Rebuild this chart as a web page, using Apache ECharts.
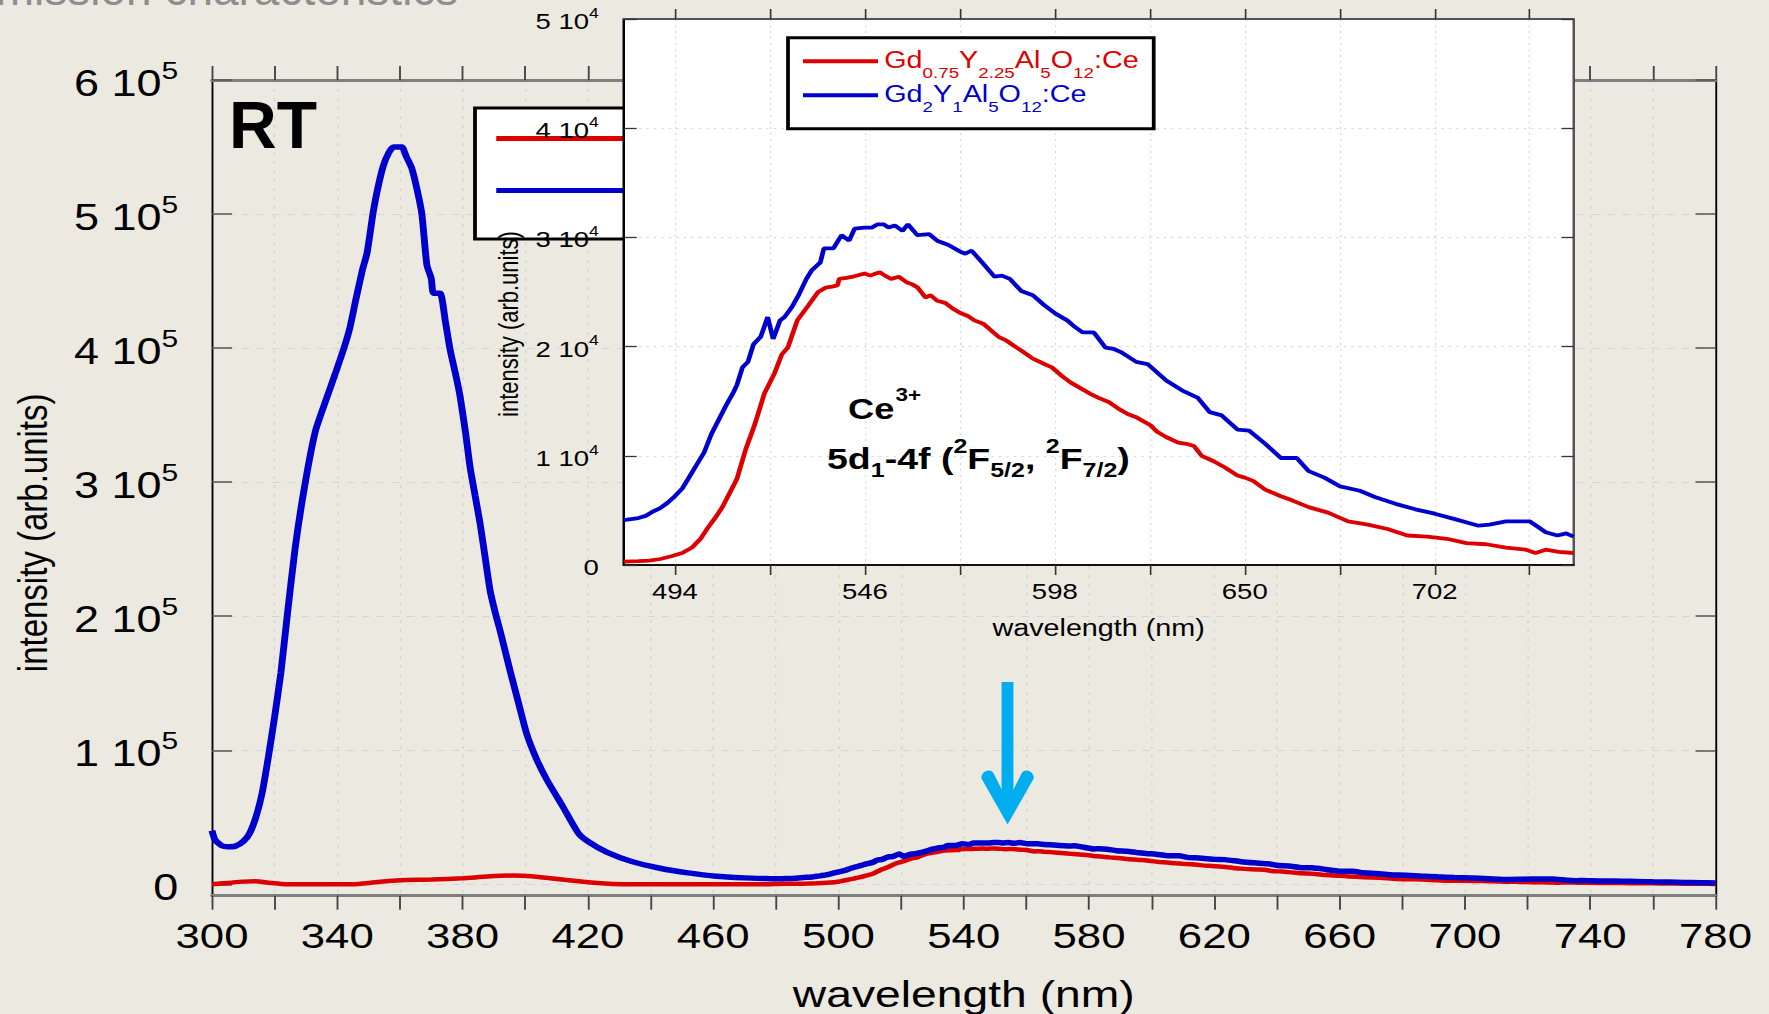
<!DOCTYPE html>
<html>
<head>
<meta charset="utf-8">
<title>Gd-YAG:Ce emission at RT</title>
<script src="https://cdn.jsdelivr.net/npm/echarts@6/dist/echarts.min.js"></script>
<style>
  html, body { margin: 0; padding: 0; background: #ECEAE0; }
  #wrap { width: 1769px; height: 1014px; overflow: hidden; background: #ECEAE0; }
  /* the original figure is a plot that was pasted stretched sideways, so draw it narrow and stretch it */
  #chart { width: 1415px; height: 1014px; transform: scaleX(1.25); transform-origin: 0 0; }
</style>
</head>
<body>
<div id="wrap"><div id="chart"></div></div>
<script>
const redName = 'Gd0.75Y2.25Al5O12:Ce';
const blueName = 'Gd2Y1Al5O12:Ce';

// UV part of the main plot, [wavelength nm, intensity]
const uvBlue = [
  [300, 40000], [301, 33000], [303, 29000], [305, 28000], [307.5, 28500], [310, 32000], [312, 38000],
  [314, 50000], [316, 68000], [318, 95000], [320, 125000], [322, 158000], [324, 200000], [326.5, 250000],
  [329.5, 296000], [333, 338000], [336.5, 362000], [339.5, 382000], [342, 399000], [344, 415000],
  [346, 437000], [348, 458000], [349.5, 471000], [351.5, 502000], [353, 520000], [354.7, 536000],
  [356.5, 546000], [358, 550000], [360.6, 550000], [362, 543000], [363.8, 534000], [365.4, 519000],
  [367, 500000], [368.6, 462000], [370, 452000], [370.7, 441000], [372.8, 441000], [374.5, 420000],
  [376, 399000], [378, 378000], [379.2, 364000], [381, 336000], [382.4, 311000], [384, 290000],
  [385.6, 269000], [387.2, 244000], [388.8, 219000], [390.5, 202000], [392, 189000], [393.6, 174000],
  [395.2, 159000], [398, 134000], [400.5, 112000], [403.5, 94000], [406.9, 78000], [412, 58000],
  [417, 38000], [420, 32000], [426, 24000], [434, 17000], [443, 12000], [452, 8500], [461, 6000],
  [470, 4800], [478, 4200]
];
const uvRed = [
  [300, 0], [305, 1000], [310, 2000], [314, 2200], [318, 1200], [324, 0], [345, 0], [352, 1500],
  [360, 3000], [370, 3500], [380, 4500], [388, 5800], [396, 6500], [402, 6000], [408, 4500],
  [414, 3000], [420, 1500], [428, 300], [435, 0], [478, 0]
];

// Ce3+ band, shared by the main plot and the inset (480-740 nm)
const visBlue = [
  [480, 4100], [482, 4200], [484, 4300], [486, 4500], [488, 4900], [490, 5200], [492, 5700], [494, 6300],
  [496, 7000], [498, 8100], [500, 9200], [502, 10300], [504, 12000], [506, 13300], [508, 14600],
  [510, 15800], [511, 16500], [512.5, 18100], [514, 18600], [515.5, 20200], [517.5, 20900],
  [519.4, 22700], [520.9, 20700], [522.8, 22400], [524, 22700], [526, 23600], [528, 24800],
  [530, 26200], [531.5, 27000], [533.8, 27700], [534.8, 29000], [537.4, 29000], [539.6, 30200],
  [541.7, 29700], [543.2, 30800], [545.9, 30900], [547.9, 30900], [549.5, 31200], [551.1, 31200],
  [552.5, 30900], [554.2, 31100], [556.3, 30600], [557.8, 31200], [560.4, 30200], [563.6, 30300],
  [565.8, 29700], [568.9, 29300], [572.1, 28700], [573.5, 28500], [575.2, 28800], [578.4, 27600],
  [581.5, 26400], [583.5, 26500], [585.7, 26200], [588.8, 25100], [592, 24700], [595.1, 23800],
  [598.3, 23000], [601.4, 22400], [603.5, 21800], [605.6, 21300], [608.7, 21300], [611.9, 19900],
  [614, 19800], [616.1, 19500], [620.3, 18600], [623.4, 18400], [628.5, 16900], [632.8, 16000],
  [637.2, 15300], [640.4, 14000], [643.7, 13700], [648, 12400], [651.2, 12300], [655.6, 11100],
  [659.9, 9800], [664.2, 9800], [667.5, 8600], [671.8, 8000], [676.1, 7200], [681.5, 6800],
  [685.8, 6200], [691.3, 5600], [696.7, 5100], [702, 4700], [707.5, 4200], [714, 3600], [717, 3700],
  [721.5, 4000], [728, 4000], [732.4, 3000], [735.6, 2700], [738, 2900], [740, 2600]
];
const visRed = [
  [480, 300], [484, 350], [487, 400], [490, 550], [493, 800], [496, 1100], [498.7, 1600], [501, 2400],
  [503, 3400], [505, 4300], [507, 5300], [509, 6600], [511, 7900], [513.3, 10500], [515.9, 12900],
  [518.5, 15700], [521.2, 17500], [523.3, 19300], [524.9, 19900], [527.5, 22400], [530.6, 23800],
  [533.2, 25000], [535.3, 25400], [537, 25500], [538.5, 25600], [539, 26200], [541, 26300],
  [542.7, 26400], [545.9, 26700], [547.5, 26500], [549, 26700], [550.1, 26800], [551.5, 26500],
  [553.2, 26200], [555.3, 26400], [557.4, 25900], [559, 25700], [560.5, 25400], [562.6, 24500],
  [564, 24700], [565.8, 24200], [568, 24000], [570, 23500], [572, 23100], [574.2, 22800], [576, 22400],
  [578.4, 22100], [580.5, 21500], [582.6, 20900], [584.5, 20600], [586.7, 20100], [589, 19600],
  [592, 18900], [594.5, 18500], [597.2, 18100], [600, 17300], [602.4, 16700], [605, 16200],
  [607.6, 15700], [610, 15300], [612.9, 14900], [615.5, 14300], [618.1, 13800], [620.5, 13500],
  [624.2, 12800], [626, 12200], [628.6, 11700], [631.8, 11200], [634, 11100], [636.1, 10900],
  [638.2, 10000], [641.5, 9500], [644.7, 8900], [648, 8200], [650, 8000], [652.3, 7700], [655.6, 6900],
  [659.9, 6300], [663.1, 5900], [667.5, 5300], [672.8, 4800], [678.3, 4000], [683.7, 3700],
  [689.1, 3300], [694.5, 2700], [699.9, 2600], [705.3, 2400], [710.7, 2000], [716.1, 1900],
  [721.5, 1600], [727, 1400], [729.6, 1100], [732.4, 1400], [736, 1200], [740, 1100]
];

// tail of the main plot past the inset range
const tailBlue = [[745, 2500], [750, 2300], [755, 2100], [760, 1900], [765, 1700], [770, 1400], [775, 1200], [780, 1000]];
const tailRed = [[745, 1000], [750, 900], [755, 800], [760, 700], [765, 600], [770, 500], [775, 400], [780, 300]];

// ticks
const mainXLabels = [300, 340, 380, 420, 460, 500, 540, 580, 620, 660, 700, 740, 780];
const mainYTicks = [0, 100000, 200000, 300000, 400000, 500000, 600000];
const insetXTicks = [494, 520, 546, 572, 598, 624, 650, 676, 702, 728];
const insetXLabels = [494, 546, 598, 650, 702];

// arrow pointing at the Ce3+ band in the main plot
const arrowWl = 554;
const arrowTop = 151000;
const arrowShaftEnd = 56000;
const arrowTip = 44600;

const F = 'Liberation Sans, Arial, sans-serif';
const RED = '#DD0000';
const BLUE = '#0000CC';
const CYAN = '#00AEEF';

const legendText = {};
legendText[redName] = '{nr|Gd}{sr|0.75}{nr|Y}{sr|2.25}{nr|Al}{sr|5}{nr|O}{sr|12}{nr|:Ce}';
legendText[blueName] = '{nb|Gd}{sb|2}{nb|Y}{sb|1}{nb|Al}{sb|5}{nb|O}{sb|12}{nb|:Ce}';

function sup(size, top) {
  return { fontFamily: F, fontSize: size, color: '#000', verticalAlign: 'top', padding: [top, 0, 0, 0] };
}

const mainGrid = '#D3D5DB';
const insetGrid = '#D9D9D9';

var myChart = echarts.init(document.getElementById('chart'), null, { renderer: 'svg' });

var option = {
  animation: false,
  backgroundColor: 'transparent',
  textStyle: { fontFamily: F },
  grid: [
    { left: 169.6, right: 42.6, top: 80, bottom: 118.3, outerBoundsMode: 'none' },
    { left: 499, right: 156.2, top: 19, bottom: 449, show: true, backgroundColor: '#fff', borderWidth: 0, z: 5, outerBoundsMode: 'none' }
  ],
  legend: [
    {
      z: 3, left: 380, top: 108, orient: 'vertical',
      data: [redName, blueName],
      icon: 'rect', itemWidth: 140, itemHeight: 5, itemGap: 47,
      formatter: function () { return ''; },
      textStyle: { fontSize: 1 },
      backgroundColor: '#fff', borderColor: '#000', borderWidth: 3,
      padding: [28, 20, 46, 17]
    },
    {
      z: 8, left: 630.4, top: 37.7, orient: 'vertical',
      data: [redName, blueName],
      icon: 'rect', itemWidth: 60, itemHeight: 4, itemGap: 2,
      formatter: function (name) { return legendText[name]; },
      textStyle: {
        rich: {
          nr: { fontFamily: F, fontSize: 23, color: RED, verticalAlign: 'top', padding: [7, 0, 0, 0] },
          sr: { fontFamily: F, fontSize: 15, color: RED, verticalAlign: 'top', padding: [24, 0, 0, 0] },
          nb: { fontFamily: F, fontSize: 23, color: BLUE, verticalAlign: 'top', padding: [7, 0, 0, 0] },
          sb: { fontFamily: F, fontSize: 15, color: BLUE, verticalAlign: 'top', padding: [24, 0, 0, 0] }
        }
      },
      backgroundColor: '#fff', borderColor: '#000', borderWidth: 3,
      padding: [11, 12, 14, 12]
    }
  ],
  xAxis: [
    {
      gridIndex: 0, type: 'value', min: 300, max: 780, interval: 20, position: 'bottom',
      name: 'wavelength (nm)', nameLocation: 'middle', nameGap: 80,
      nameTextStyle: { fontFamily: F, fontSize: 37, color: '#000' },
      axisLine: { show: true, onZero: false, lineStyle: { color: '#7F7F7F', width: 3 } },
      axisTick: { show: true, length: 14, lineStyle: { color: '#444', width: 1.5 } },
      axisLabel: { customValues: mainXLabels, margin: 22, fontFamily: F, fontSize: 35, color: '#000' },
      splitLine: { show: true, lineStyle: { color: mainGrid, width: 1.2, type: [3, 6] } }
    },
    {
      gridIndex: 0, type: 'value', min: 300, max: 780, interval: 20, position: 'top',
      axisLine: { show: true, onZero: false, lineStyle: { color: '#7F7F7F', width: 3 } },
      axisTick: { show: true, length: 14, lineStyle: { color: '#444', width: 1.5 } },
      axisLabel: { show: false },
      splitLine: { show: false }
    },
    {
      gridIndex: 1, type: 'value', min: 480, max: 740, position: 'bottom', z: 6,
      name: 'wavelength (nm)', nameLocation: 'middle', nameGap: 52,
      nameTextStyle: { fontFamily: F, fontSize: 23, color: '#000' },
      axisLine: { show: true, onZero: false, lineStyle: { color: '#111', width: 2 } },
      axisTick: { show: true, customValues: insetXTicks, length: 10, lineStyle: { color: '#333', width: 1.3 } },
      axisLabel: { customValues: insetXLabels, margin: 15, fontFamily: F, fontSize: 22, color: '#000' },
      splitLine: { show: true, lineStyle: { color: insetGrid, width: 1, type: [2, 4] } }
    },
    {
      gridIndex: 1, type: 'value', min: 480, max: 740, position: 'top', z: 6,
      axisLine: { show: true, onZero: false, lineStyle: { color: '#555', width: 2 } },
      axisTick: { show: true, customValues: insetXTicks, length: 10, lineStyle: { color: '#333', width: 1.3 } },
      axisLabel: { show: false },
      splitLine: { show: false }
    }
  ],
  yAxis: [
    {
      gridIndex: 0, type: 'value', min: -8500, max: 600000, position: 'left',
      name: 'intensity (arb.units)', nameLocation: 'middle', nameRotate: 90, nameGap: 127,
      nameTextStyle: { fontFamily: F, fontSize: 33, color: '#000', padding: [0, 90, 0, 0] },
      axisLine: { show: true, onZero: false, lineStyle: { color: '#000', width: 1.5 } },
      axisTick: { show: true, inside: true, length: 16, customValues: mainYTicks, lineStyle: { color: '#555', width: 1.5 } },
      axisLabel: {
        customValues: mainYTicks, margin: 27,
        formatter: function (v) { return v === 0 ? '{m|0}' : '{m|' + v / 100000 + ' 10}{u|5}'; },
        rich: { m: sup(36, 7), u: sup(24, 0) }
      },
      splitLine: { show: true, lineStyle: { color: mainGrid, width: 1.2, type: [6, 6] } }
    },
    {
      gridIndex: 0, type: 'value', min: -8500, max: 600000, position: 'right',
      axisLine: { show: true, onZero: false, lineStyle: { color: '#000', width: 1.5 } },
      axisTick: { show: true, inside: true, length: 16, customValues: mainYTicks, lineStyle: { color: '#555', width: 1.5 } },
      axisLabel: { show: false },
      splitLine: { show: false }
    },
    {
      gridIndex: 1, type: 'value', min: 0, max: 50000, interval: 10000, position: 'left', z: 6,
      name: 'intensity (arb.units)', nameLocation: 'middle', nameRotate: 90, nameGap: 81,
      nameTextStyle: { fontFamily: F, fontSize: 22, color: '#000', padding: [0, 64, 0, 0] },
      axisLine: { show: true, onZero: false, lineStyle: { color: '#000', width: 2 } },
      axisTick: { show: true, inside: true, length: 10.4, lineStyle: { color: '#333', width: 1.3 } },
      axisLabel: {
        margin: 20,
        formatter: function (v) { return v === 0 ? '{m|0}' : '{m|' + v / 10000 + ' 10}{u|4}'; },
        rich: { m: sup(22, 4), u: sup(14, 0) }
      },
      splitLine: { show: true, lineStyle: { color: insetGrid, width: 1, type: [2, 4] } }
    },
    {
      gridIndex: 1, type: 'value', min: 0, max: 50000, interval: 10000, position: 'right', z: 6,
      axisLine: { show: true, onZero: false, lineStyle: { color: '#555', width: 2 } },
      axisTick: { show: true, inside: true, length: 9.6, lineStyle: { color: '#333', width: 1.3 } },
      axisLabel: { show: false },
      splitLine: { show: false }
    }
  ],
  series: [
    {
      name: redName, type: 'line', xAxisIndex: 0, yAxisIndex: 0, z: 2,
      data: uvRed.concat(visRed, tailRed),
      symbol: 'none', smooth: 0.2, color: RED, lineStyle: { width: 4.5 }
    },
    {
      name: blueName, type: 'line', xAxisIndex: 0, yAxisIndex: 0, z: 3,
      data: uvBlue.concat(visBlue, tailBlue),
      symbol: 'none', smooth: 0.2, color: BLUE, lineStyle: { width: 5.5 },
      markLine: {
        silent: true, symbol: ['none', 'none'], label: { show: false },
        lineStyle: { color: CYAN, width: 9.5, type: 'solid' },
        emphasis: { disabled: true },
        data: [[{ coord: [arrowWl, arrowTop] }, { coord: [arrowWl, arrowShaftEnd] }]]
      },
      markPoint: {
        silent: true, label: { show: false },
        data: [{
          coord: [arrowWl, arrowTip],
          symbol: 'path://M0,8C0,1 9,-2 12,4L25,30L38,4C41,-2 50,1 50,8L25,52Z',
          symbolSize: [42, 54], symbolOffset: [0, -27],
          itemStyle: { color: CYAN }
        }]
      }
    },
    {
      name: redName, type: 'line', xAxisIndex: 2, yAxisIndex: 2, z: 7,
      data: visRed, symbol: 'none', color: RED, lineStyle: { width: 3.8 }
    },
    {
      name: blueName, type: 'line', xAxisIndex: 2, yAxisIndex: 2, z: 7,
      data: visBlue, symbol: 'none', color: BLUE, lineStyle: { width: 3.8 }
    }
  ],
  graphic: [
    {
      type: 'text', x: -28, y: 12, scaleX: 0.8, z: 1, silent: true,
      style: { text: 'Emission characteristics', fontFamily: F, fontSize: 46, fill: '#8E8E8E', verticalAlign: 'bottom' }
    },
    {
      type: 'text', x: 183.2, y: 92, scaleX: 0.8, z: 20, silent: true,
      style: { text: 'RT', fontFamily: F, fontSize: 66, fontWeight: 'bold', fill: '#000' }
    },
    {
      type: 'text', x: 678.4, y: 386, z: 20, silent: true,
      style: {
        text: '{c|Ce}{p|3+}',
        rich: {
          c: { fontFamily: F, fontSize: 29, fontWeight: 'bold', fill: '#000', verticalAlign: 'top', padding: [8, 0, 0, 0] },
          p: { fontFamily: F, fontSize: 18, fontWeight: 'bold', fill: '#000', verticalAlign: 'top', padding: [0, 0, 0, 1] }
        }
      }
    },
    {
      type: 'text', x: 661.6, y: 436, z: 20, silent: true,
      style: {
        text: '{a|5d}{b|1}{a|-4f (}{p|2}{a|F}{b|5/2}{a|, }{p|2}{a|F}{b|7/2}{a|)}',
        rich: {
          a: { fontFamily: F, fontSize: 30, fontWeight: 'bold', fill: '#000', verticalAlign: 'top', padding: [7, 0, 0, 0] },
          b: { fontFamily: F, fontSize: 20, fontWeight: 'bold', fill: '#000', verticalAlign: 'top', padding: [24, 0, 0, 0] },
          p: { fontFamily: F, fontSize: 20, fontWeight: 'bold', fill: '#000', verticalAlign: 'top', padding: [0, 0, 0, 0] }
        }
      }
    }
  ]
};

myChart.setOption(option);
</script>
</body>
</html>
